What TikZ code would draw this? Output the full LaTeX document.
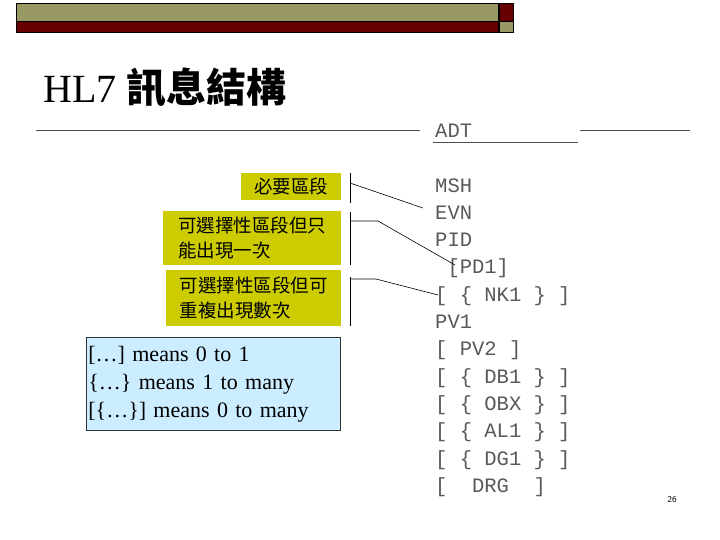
\documentclass[tikz,border=0pt]{standalone}
\usepackage{fontspec}
\setmainfont{Liberation Serif}
\newfontfamily\cjk{Noto Sans CJK TC}
\newfontfamily\mono{Liberation Mono}
\definecolor{olive}{HTML}{999966}
\definecolor{maroon}{HTML}{660000}
\definecolor{ybox}{HTML}{CCCC00}
\definecolor{bbox}{HTML}{CCECFF}
\begin{document}
\begin{tikzpicture}[x=1pt,y=-1pt,
  lbl/.style={fill=ybox,inner sep=2pt,align=left,font=\cjk\fontsize{18.5}{25}\selectfont,anchor=north west},
  seg/.style={font=\mono\fontsize{20.5}{20}\selectfont,text=black!65,anchor=west,inner sep=0pt},
  conn/.style={draw=black,line width=0.6pt}]
\useasboundingbox (0,0) rectangle (720,540);
\fill[olive] (16,3) rectangle (498,21);
\fill[maroon] (16,21) rectangle (498,32);
\draw[line width=0.8pt] (16,3) rectangle (498,32) (16,21)--(498,21);
\fill[maroon] (499,3) rectangle (513,21);
\fill[olive] (499,21) rectangle (513,32);
\draw[line width=0.8pt] (499,3) rectangle (513,32) (499,21)--(513,21);
\node[anchor=west,inner sep=0pt] (title) at (43,88) {\fontsize{40}{40}\selectfont HL7 {\cjk\bfseries 訊息結構}};
\draw[black!70] (36,130)--(420,130) (580,130)--(690,130) (433,142)--(578,142);
\node[seg] (adt) at (435,131) {ADT};
\def\sp{\hphantom{X}}
\node[seg] (s0) at (435,186) {MSH};
\node[seg] (s1) at (435,213) {EVN};
\node[seg] (s2) at (435,240) {PID};
\node[seg] (s3) at (435,268) {\sp[PD1]};
\node[seg] (s4) at (435,296) {[\sp\{\sp NK1\sp\}\sp]};
\node[seg] (s5) at (435,322) {PV1};
\node[seg] (s6) at (435,350) {[\sp PV2\sp]};
\node[seg] (s7) at (435,378) {[\sp\{\sp DB1\sp\}\sp]};
\node[seg] (s8) at (435,405) {[\sp\{\sp OBX\sp\}\sp]};
\node[seg] (s9) at (435,432) {[\sp\{\sp AL1\sp\}\sp]};
\node[seg] (s10) at (435,460) {[\sp\{\sp DG1\sp\}\sp]};
\node[seg] (s11) at (435,487) {[\sp\sp DRG\sp\sp]};
\node[lbl,minimum width=100pt,minimum height=27pt,align=right] (b1) at (241,173) {必要區段};
\node[lbl,minimum width=178pt,minimum height=54pt] (b2) at (163,211) {可選擇性區段但只\\能出現一次};
\node[lbl,minimum width=175pt,minimum height=56pt] (b3) at (166,270) {可選擇性區段但可\\重複出現數次};
\coordinate (v1a) at (350,173); \coordinate (v1b) at (350,203);
\coordinate (v2a) at (350,212); \coordinate (v2b) at (350,265);
\coordinate (v3a) at (350,277); \coordinate (v3b) at (350,326);
\draw[conn] (v1a)--(v1b) (v2a)--(v2b) (v3a)--(v3b);
\coordinate (e1) at (423,208); \coordinate (e2) at (455,265); \coordinate (e3) at (438,295);
\draw[conn] (350,183)--(e1);
\draw[conn] (350,221)--(378,221)--(e2);
\draw[conn] (350,279)--(376,279)--(e3);
\node[draw=black!80,fill=bbox,line width=0.8pt,anchor=north west,minimum width=254pt,minimum height=93pt,inner sep=2pt,align=left,text width=250pt,font=\fontsize{22}{28}\selectfont] (key) at (86,337) {[…] means 0 to 1\\\{…\} means 1 to many\\{}[\{…\}] means 0 to many};
\node[font=\sffamily\fontsize{9}{9}\selectfont] (pg) at (672,500) {26};
\end{tikzpicture}
\end{document}
